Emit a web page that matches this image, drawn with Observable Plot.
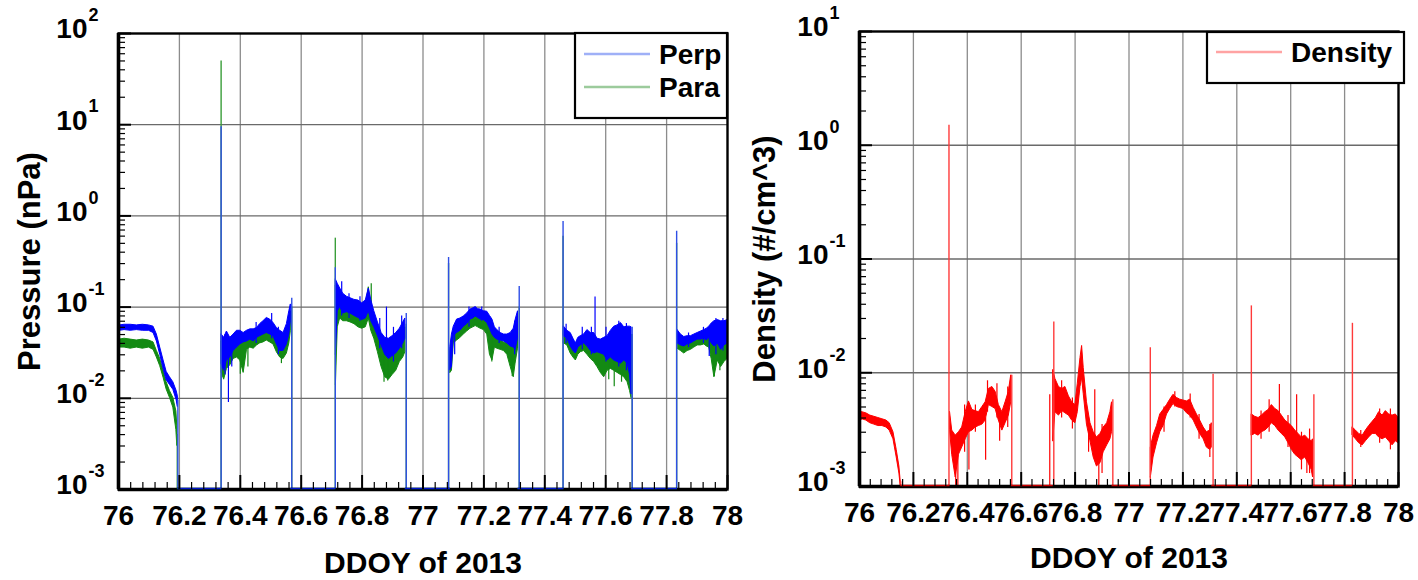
<!DOCTYPE html>
<html><head><meta charset="utf-8">
<script src="https://cdn.jsdelivr.net/npm/d3@7"></script>
<script src="https://cdn.jsdelivr.net/npm/@observablehq/plot@0.6"></script>
<style>
body{margin:0;background:#fff;}
#wrap{position:relative;width:1418px;height:580px;overflow:hidden;background:#fff;font-family:"Liberation Sans",Arial,sans-serif;}
#wrap svg{position:absolute;top:0;}
</style></head><body><div id="wrap"></div>
<script>
// ---------- tick labels ----------
const xTicks = [76, 76.2, 76.4, 76.6, 76.8, 77, 77.2, 77.4, 77.6, 77.8, 78];
const pressureDecades = [1e-3, 1e-2, 1e-1, 1, 10, 100];
const pressureExponents = ["-3", "-2", "-1", "0", "1", "2"];
const densityDecades = [1e-3, 1e-2, 1e-1, 1, 10];
const densityExponents = ["-3", "-2", "-1", "0", "1"];
const xTitle = "DDOY of 2013";
const pressureTitle = "Pressure (nPa)";
const densityTitle = "Density (#/cm^3)";
const pressureNames = ["Perp", "Para"];
const densityNames = ["Density"];

// ---------- Perp pressure: segments of [DDOY, low, high] ----------
const perpSegs = [
 [[76.000,0.049,0.056],[76.004,0.055,0.063],[76.02,0.056,0.064],[76.04,0.055,0.064],[76.06,0.056,0.063],[76.08,0.055,0.064],[76.10,0.055,0.063],[76.115,0.052,0.061],[76.126,0.042,0.050],[76.137,0.030,0.036],[76.148,0.021,0.026],[76.158,0.0158,0.0195],[76.169,0.014,0.017],[76.180,0.0124,0.015],[76.191,0.0095,0.012],[76.195,0.008,0.0105]],
 [[76.339,0.0235,0.050],[76.347,0.020,0.046],[76.356,0.026,0.054],[76.367,0.028,0.046],[76.378,0.033,0.050],[76.389,0.036,0.055],[76.400,0.039,0.055],[76.411,0.041,0.052],[76.422,0.042,0.055],[76.433,0.044,0.057],[76.444,0.042,0.057],[76.455,0.046,0.059],[76.465,0.048,0.065],[76.476,0.050,0.070],[76.487,0.052,0.076],[76.498,0.050,0.073],[76.509,0.048,0.067],[76.520,0.039,0.059],[76.531,0.033,0.055],[76.542,0.033,0.052],[76.553,0.039,0.065],[76.561,0.050,0.090],[76.566,0.070,0.107]],
 [[76.714,0.03,0.2],[76.72,0.09,0.18],[76.728,0.1,0.16],[76.738,0.085,0.14],[76.75,0.088,0.13],[76.762,0.085,0.125],[76.775,0.08,0.12],[76.788,0.076,0.118],[76.80,0.072,0.11],[76.812,0.075,0.118],[76.822,0.09,0.16],[76.83,0.07,0.12],[76.84,0.06,0.09],[76.852,0.048,0.068],[76.864,0.038,0.052],[76.876,0.030,0.046],[76.888,0.027,0.045],[76.90,0.029,0.048],[76.912,0.031,0.052],[76.924,0.035,0.058],[76.935,0.040,0.068],[76.942,0.045,0.075]],
 [[77.090,0.0205,0.037],[77.095,0.022,0.05],[77.101,0.048,0.061],[77.112,0.052,0.073],[77.123,0.055,0.075],[77.134,0.061,0.079],[77.145,0.065,0.085],[77.156,0.073,0.094],[77.165,0.075,0.097],[77.173,0.079,0.1],[77.181,0.076,0.095],[77.189,0.073,0.094],[77.20,0.072,0.09],[77.211,0.067,0.089],[77.22,0.058,0.08],[77.228,0.05,0.073],[77.236,0.046,0.06],[77.244,0.044,0.056],[77.255,0.043,0.052],[77.266,0.042,0.05],[77.277,0.04,0.05],[77.288,0.037,0.052],[77.298,0.036,0.058],[77.304,0.034,0.072],[77.312,0.045,0.09]],
 [[77.463,0.048,0.061],[77.474,0.045,0.055],[77.485,0.037,0.052],[77.494,0.033,0.045],[77.502,0.031,0.04],[77.51,0.036,0.046],[77.518,0.038,0.048],[77.529,0.04,0.05],[77.54,0.037,0.056],[77.551,0.033,0.052],[77.562,0.031,0.052],[77.573,0.032,0.045],[77.584,0.031,0.044],[77.595,0.03,0.046],[77.606,0.026,0.048],[77.617,0.028,0.055],[77.628,0.026,0.061],[77.639,0.025,0.063],[77.650,0.024,0.067],[77.661,0.026,0.06],[77.672,0.024,0.061],[77.68,0.018,0.061],[77.685,0.011,0.06]],
 [[77.836,0.04,0.056],[77.847,0.038,0.05],[77.858,0.037,0.047],[77.869,0.039,0.048],[77.88,0.04,0.048],[77.891,0.042,0.05],[77.902,0.044,0.052],[77.913,0.044,0.054],[77.924,0.045,0.056],[77.932,0.043,0.058],[77.94,0.046,0.061],[77.948,0.04,0.066],[77.957,0.037,0.07],[77.968,0.04,0.072],[77.979,0.034,0.07],[77.99,0.038,0.07],[78.0,0.04,0.072]]
];
const perpSpikes = [[76.195,0.0095],[76.337,9.5],[76.569,0.125],[76.712,0.27],[76.945,0.085],[77.084,0.35],[77.316,0.168],[77.460,0.87],[77.687,0.06],[77.833,0.68]];
const perpFeatures = [[76.361,0.009,0.03],[76.88,0.035,0.1],[77.565,0.045,0.129],[77.94,0.0287,0.045],
 [76.35,0.018,0.05],[76.372,0.022,0.04],[76.452,0.04,0.068],[76.503,0.045,0.085],[76.525,0.03,0.06],
 [76.733,0.08,0.19],[76.757,0.075,0.14],[76.793,0.07,0.13],[76.858,0.035,0.075],[76.903,0.025,0.06],[76.93,0.035,0.08],
 [77.104,0.03,0.06],[77.151,0.06,0.1],[77.193,0.07,0.1],[77.25,0.04,0.06],[77.301,0.03,0.07],
 [77.47,0.04,0.065],[77.523,0.034,0.06],[77.553,0.03,0.06],[77.601,0.025,0.06],[77.643,0.022,0.07],[77.668,0.02,0.066],
 [77.872,0.036,0.052],[77.921,0.04,0.06],[77.962,0.03,0.075],[77.985,0.033,0.075]];

// ---------- Para pressure ----------
const paraSegs = [
 [[76.000,0.030,0.036],[76.004,0.036,0.044],[76.02,0.036,0.045],[76.04,0.035,0.044],[76.06,0.036,0.043],[76.08,0.035,0.044],[76.10,0.036,0.043],[76.115,0.034,0.041],[76.126,0.028,0.033],[76.137,0.0225,0.027],[76.148,0.0168,0.02],[76.158,0.0125,0.015],[76.169,0.0101,0.012],[76.18,0.0079,0.0101],[76.19,0.0045,0.0072],[76.193,0.003,0.005]],
 [[76.339,0.019,0.042],[76.347,0.016,0.04],[76.356,0.021,0.045],[76.367,0.023,0.04],[76.378,0.027,0.043],[76.389,0.028,0.048],[76.400,0.026,0.047],[76.411,0.019,0.045],[76.422,0.034,0.048],[76.433,0.036,0.05],[76.444,0.035,0.05],[76.455,0.038,0.052],[76.465,0.04,0.057],[76.476,0.041,0.062],[76.487,0.043,0.066],[76.498,0.041,0.064],[76.509,0.039,0.059],[76.520,0.032,0.052],[76.531,0.028,0.048],[76.542,0.027,0.045],[76.553,0.031,0.055],[76.561,0.040,0.075],[76.566,0.055,0.09]],
 [[76.714,0.014,0.17],[76.72,0.06,0.15],[76.728,0.075,0.13],[76.738,0.07,0.12],[76.75,0.07,0.11],[76.762,0.068,0.105],[76.775,0.065,0.1],[76.788,0.06,0.1],[76.80,0.058,0.095],[76.812,0.06,0.1],[76.822,0.075,0.165],[76.83,0.055,0.1],[76.84,0.045,0.075],[76.852,0.032,0.055],[76.864,0.022,0.042],[76.876,0.017,0.036],[76.888,0.016,0.034],[76.90,0.018,0.037],[76.912,0.02,0.04],[76.924,0.025,0.046],[76.935,0.028,0.052],[76.942,0.032,0.06]],
 [[77.090,0.019,0.033],[77.095,0.02,0.044],[77.101,0.04,0.052],[77.112,0.043,0.062],[77.123,0.046,0.064],[77.134,0.05,0.066],[77.145,0.054,0.071],[77.156,0.058,0.077],[77.165,0.06,0.08],[77.173,0.062,0.082],[77.181,0.06,0.078],[77.189,0.058,0.077],[77.20,0.056,0.074],[77.211,0.05,0.072],[77.22,0.03,0.064],[77.228,0.026,0.058],[77.236,0.036,0.05],[77.244,0.035,0.046],[77.255,0.034,0.043],[77.266,0.033,0.041],[77.277,0.03,0.04],[77.288,0.022,0.04],[77.298,0.017,0.045],[77.304,0.024,0.058],[77.312,0.035,0.075]],
 [[77.463,0.04,0.055],[77.474,0.038,0.05],[77.485,0.031,0.046],[77.494,0.028,0.04],[77.502,0.026,0.036],[77.51,0.03,0.041],[77.518,0.032,0.043],[77.529,0.033,0.045],[77.54,0.03,0.05],[77.551,0.027,0.047],[77.562,0.025,0.046],[77.573,0.022,0.04],[77.584,0.019,0.039],[77.595,0.017,0.04],[77.606,0.02,0.042],[77.617,0.021,0.047],[77.628,0.02,0.05],[77.639,0.019,0.052],[77.650,0.018,0.055],[77.661,0.017,0.05],[77.672,0.015,0.05],[77.68,0.012,0.05],[77.685,0.01,0.05]],
 [[77.836,0.035,0.05],[77.847,0.033,0.045],[77.858,0.031,0.042],[77.869,0.033,0.043],[77.88,0.034,0.043],[77.891,0.036,0.045],[77.902,0.038,0.047],[77.913,0.038,0.049],[77.924,0.039,0.05],[77.932,0.037,0.052],[77.94,0.036,0.054],[77.948,0.027,0.057],[77.957,0.017,0.06],[77.968,0.026,0.062],[77.979,0.022,0.06],[77.99,0.025,0.06],[78.0,0.027,0.062]]
];
const paraSpikes = [[76.193,0.004],[76.337,50],[76.569,0.1],[76.712,0.57],[76.945,0.065],[77.084,0.3],[77.316,0.1],[77.460,0.6],[77.687,0.05],[77.833,0.5]];
const paraFeatures = [[76.40,0.0183,0.035],[76.83,0.08,0.18],[77.293,0.0173,0.035],[77.628,0.0134,0.03],[77.957,0.0173,0.03],
 [76.425,0.022,0.04],[76.535,0.024,0.045],[76.872,0.015,0.035],[76.884,0.0155,0.035],[77.226,0.025,0.05],[77.61,0.016,0.035],[77.652,0.015,0.035],[77.975,0.02,0.04]];

// ---------- Density ----------
const densitySegs = [
 [[76.000,0.0036,0.0047],[76.01,0.0039,0.0045],[76.025,0.0038,0.0044],[76.04,0.0036,0.0042],[76.055,0.0035,0.0041],[76.07,0.0034,0.004],[76.085,0.0034,0.0039],[76.1,0.0033,0.0038],[76.112,0.0031,0.0036],[76.126,0.0026,0.003],[76.138,0.0018,0.0021],[76.148,0.0013,0.0015],[76.153,0.001,0.0011]],
 [[76.336,0.0031,0.0045],[76.344,0.0019,0.0031],[76.357,0.0012,0.0028],[76.369,0.0019,0.003],[76.381,0.0022,0.0033],[76.394,0.0026,0.0045],[76.406,0.003,0.0056],[76.419,0.0031,0.0047],[76.431,0.0033,0.0046],[76.443,0.0034,0.0045],[76.456,0.0035,0.005],[76.468,0.0038,0.0055],[76.48,0.0052,0.0072],[76.493,0.005,0.0075],[76.505,0.0048,0.0068],[76.517,0.0038,0.0052],[76.53,0.0031,0.0045],[76.542,0.0036,0.0055],[76.554,0.0042,0.0068],[76.563,0.0055,0.0095]],
 [[76.719,0.0025,0.0105],[76.727,0.0045,0.0088],[76.74,0.0042,0.0075],[76.752,0.0046,0.0072],[76.764,0.0044,0.0075],[76.777,0.0042,0.0062],[76.789,0.0038,0.0055],[76.801,0.0036,0.0052],[76.81,0.0045,0.008],[76.82,0.0075,0.0135],[76.826,0.009,0.0172],[76.832,0.0065,0.011],[76.844,0.0035,0.0055],[76.857,0.0025,0.0036],[76.869,0.0018,0.003],[76.881,0.0015,0.0027],[76.894,0.0016,0.0029],[76.906,0.002,0.0033],[76.919,0.0023,0.0036],[76.931,0.0026,0.0045],[76.937,0.003,0.0055]],
 [[77.081,0.0012,0.0022],[77.091,0.0018,0.0028],[77.104,0.0024,0.0034],[77.116,0.003,0.0043],[77.128,0.0034,0.0047],[77.141,0.0043,0.0052],[77.153,0.0048,0.0058],[77.165,0.0053,0.0064],[77.178,0.005,0.006],[77.19,0.0049,0.0058],[77.202,0.0048,0.0057],[77.215,0.0044,0.0056],[77.227,0.0042,0.0058],[77.24,0.0038,0.0049],[77.252,0.0033,0.0043],[77.264,0.0029,0.0038],[77.277,0.0026,0.0033],[77.289,0.0022,0.003],[77.301,0.0021,0.0031],[77.307,0.0022,0.0036]],
 [[77.456,0.0028,0.0043],[77.468,0.0029,0.0041],[77.481,0.0028,0.004],[77.493,0.003,0.0042],[77.506,0.0031,0.0045],[77.518,0.0033,0.0047],[77.53,0.0036,0.0052],[77.543,0.0034,0.0048],[77.555,0.0031,0.0046],[77.567,0.0029,0.0042],[77.58,0.0027,0.0038],[77.592,0.0024,0.0036],[77.604,0.0021,0.0034],[77.617,0.0019,0.0031],[77.629,0.0018,0.0029],[77.641,0.0017,0.0027],[77.654,0.0018,0.0028],[77.666,0.0016,0.0026],[77.678,0.0014,0.0025],[77.683,0.0012,0.0026]],
 [[77.83,0.0028,0.0033],[77.842,0.0026,0.0031],[77.854,0.0024,0.0029],[77.867,0.0023,0.0028],[77.879,0.0025,0.0031],[77.891,0.0027,0.0034],[77.904,0.0029,0.0037],[77.916,0.0029,0.004],[77.928,0.0027,0.0045],[77.941,0.0026,0.0042],[77.953,0.0027,0.0046],[77.965,0.0025,0.0043],[77.978,0.0023,0.0042],[77.99,0.0025,0.0043],[78.0,0.0024,0.004]]
];
const densitySpikes = [[76.153,0.0011],[76.332,1.5],[76.565,0.0095],[76.721,0.028],[76.940,0.0058],[77.079,0.0166],[77.312,0.0097],[77.454,0.0387],[77.686,0.0064],[77.829,0.0272]];
const densityFeatures = [[76.357,0.001,0.0028],[76.365,0.001,0.0025],[76.406,0.0014,0.0035],[76.468,0.0017,0.004],[76.52,0.0025,0.004],[76.706,0.001,0.0064],[76.873,0.0022,0.0071],[76.888,0.001,0.002],[77.227,0.004,0.0065],[77.558,0.0035,0.0079],[77.622,0.0025,0.0064],[77.66,0.0013,0.002],
 [76.39,0.002,0.0052],[76.43,0.003,0.0052],[76.475,0.0045,0.0085],[76.51,0.004,0.008],[76.55,0.0033,0.0075],[76.75,0.004,0.0085],[76.79,0.0032,0.006],[76.85,0.002,0.004],[76.90,0.0013,0.0035],[77.13,0.003,0.005],[77.17,0.005,0.0068],[77.26,0.0026,0.0043],[77.30,0.0018,0.0035],[77.49,0.0026,0.0046],[77.52,0.003,0.0058],[77.59,0.0022,0.0042],[77.64,0.0014,0.003],[77.67,0.0013,0.0032],[77.86,0.0022,0.0031],[77.93,0.0024,0.0048],[77.97,0.0021,0.0048]];

// ---------- helpers ----------
const FONT = '"Liberation Sans", Arial, Helvetica, sans-serif';
const xMinor = d3.range(0, 51).filter(i => i % 5 !== 0).map(i => 76 + i * 0.04);
function minorOf(decades){ const m=[]; decades.slice(0,-1).forEach(d=>{ for(let k=2;k<=9;k++) m.push(d*k); }); return m; }
function rowsOf(segs){ return segs.flatMap((s,i)=>s.map(([t,lo,hi])=>({seg:i,t,lo,hi}))); }
function gapsOf(segs){ const g=[]; for(let i=0;i<segs.length-1;i++) g.push([segs[i][segs[i].length-1][0], segs[i+1][0][0]]); return g; }

function seriesMarks(s, floor){
  return [
    Plot.areaY(rowsOf(s.segs), {x:"t", y1:"lo", y2:"hi", z:"seg", fill:s.color, stroke:s.color, strokeWidth:1, curve:"linear"}),
    Plot.ruleX(s.spikes, {x:d=>d[0], y1:()=>floor, y2:d=>d[1], stroke:s.spikeColor, strokeWidth:1.4}),
    Plot.ruleX(s.features, {x:d=>d[0], y1:d=>d[1], y2:d=>d[2], stroke:s.color, strokeWidth:1.2})
  ];
}

function panel(o){
  const W=o.width, H=580;
  const fw=W-o.ml-o.mr, fh=H-o.mt-o.mb;
  const floor=o.decades[0];
  const svg = Plot.plot({
    width:W, height:H, marginLeft:o.ml, marginRight:o.mr, marginTop:o.mt, marginBottom:o.mb,
    style:{fontFamily:FONT, background:"transparent", overflow:"visible", color:"black"},
    x:{domain:[76,78], axis:null},
    y:{type:"log", domain:[floor, o.decades[o.decades.length-1]], axis:null},
    marks:[
      Plot.ruleX(xTicks.slice(1,-1), {x:d=>d, stroke:"#8c8c8c", strokeWidth:1.3}),
      Plot.ruleY(o.decades.slice(1,-1), {y:d=>d, stroke:"#6a6a6a", strokeWidth:1.3}),
      ...o.series.flatMap(s=>seriesMarks(s,floor)),
      Plot.frame({stroke:"black", strokeWidth:2.4}),
      Plot.ruleX([76], {x:d=>d, stroke:"black", strokeWidth:3.6}),
      Plot.ruleY([floor], {y:d=>d, stroke:"black", strokeWidth:3.6}),
      ...o.series.map(s=>Plot.ruleY(gapsOf(s.segs), {y:()=>floor, x1:d=>d[0], x2:d=>d[1], stroke:s.color, strokeWidth:1.4, strokeOpacity:0.8, dy:-1})),
      Plot.tickX(xMinor, {x:d=>d, insetTop:fh-7, stroke:"black", strokeWidth:1.2}),
      Plot.tickX(xTicks, {x:d=>d, insetTop:fh-14, stroke:"black", strokeWidth:2}),
      Plot.tickY(minorOf(o.decades), {y:d=>d, insetRight:fw-7, stroke:"black", strokeWidth:1.2}),
      Plot.tickY(o.decades, {y:d=>d, insetRight:fw-13, stroke:"black", strokeWidth:2}),
      Plot.text(o.decades, {y:d=>d, text:()=>"10", frameAnchor:"left", textAnchor:"end", lineAnchor:"middle", dx:-31, dy:-4, fontSize:28, fontWeight:"bold", fill:"black"}),
      Plot.text(o.decades, {y:d=>d, text:(d,i)=>o.exps[i], frameAnchor:"left", textAnchor:"start", lineAnchor:"middle", dx:-30, dy:-18, fontSize:18, fontWeight:"bold", fill:"black"}),
      Plot.text(xTicks, {x:d=>d, text:d=>String(d), frameAnchor:"bottom", textAnchor:"middle", lineAnchor:"middle", dy:o.xLabelDy, fontSize:28, fontWeight:"bold", fill:"black"}),
      Plot.text([xTitle], {text:d=>d, frameAnchor:"bottom", textAnchor:"middle", lineAnchor:"middle", dy:o.xTitleDy, fontSize:30, fontWeight:"bold", fill:"black"}),
      Plot.text([o.yTitle], {text:d=>d, frameAnchor:"left", textAnchor:"middle", lineAnchor:"middle", rotate:-90, dx:o.yTitleDx, fontSize:31, fontWeight:"bold", fill:"black"})
    ]
  });
  svg.style.left = o.left + "px";
  return svg;
}

const wrap = document.getElementById("wrap");
const perp = {segs:perpSegs, spikes:perpSpikes, features:perpFeatures, color:"#0000ff", spikeColor:"#2f4fe6"};
const para = {segs:paraSegs, spikes:paraSpikes, features:paraFeatures, color:"#138a13", spikeColor:"#3a9e3a"};
const dens = {segs:densitySegs, spikes:densitySpikes, features:densityFeatures, color:"#ff0000", spikeColor:"#ff3a3a"};

wrap.appendChild(panel({left:0, width:740, ml:118, mr:13, mt:33, mb:91, decades:pressureDecades, exps:pressureExponents,
  series:[para, perp], yTitle:pressureTitle, yTitleDx:-88, xLabelDy:27, xTitleDy:74}));
wrap.appendChild(panel({left:740, width:678, ml:119, mr:20, mt:31, mb:94, decades:densityDecades, exps:densityExponents,
  series:[dens], yTitle:densityTitle, yTitleDx:-94, xLabelDy:27, xTitleDy:72}));

// ---------- legends ----------
const leg = d3.select(wrap).append("svg").attr("width",1418).attr("height",580).style("left","0px").style("font-family",FONT);
function legend(x, y, w, h, names, colors, rowY){
  leg.append("rect").attr("x",x).attr("y",y).attr("width",w).attr("height",h).attr("fill","white").attr("stroke","black").attr("stroke-width",2.2);
  names.forEach((n,i)=>{
    leg.append("line").attr("x1",x+9).attr("x2",x+75).attr("y1",rowY[i]).attr("y2",rowY[i]).attr("stroke",colors[i]).attr("stroke-width",2.5);
    leg.append("text").attr("x",x+84).attr("y",rowY[i]).attr("dominant-baseline","central").attr("font-size",28).attr("font-weight","bold").text(n);
  });
}
legend(575, 33, 152, 85, pressureNames, ["#9fb0f7","#9ccb9c"], [54, 87]);
legend(1207, 32, 197, 51, densityNames, ["#ffa3a3"], [52]);
</script></body></html>
